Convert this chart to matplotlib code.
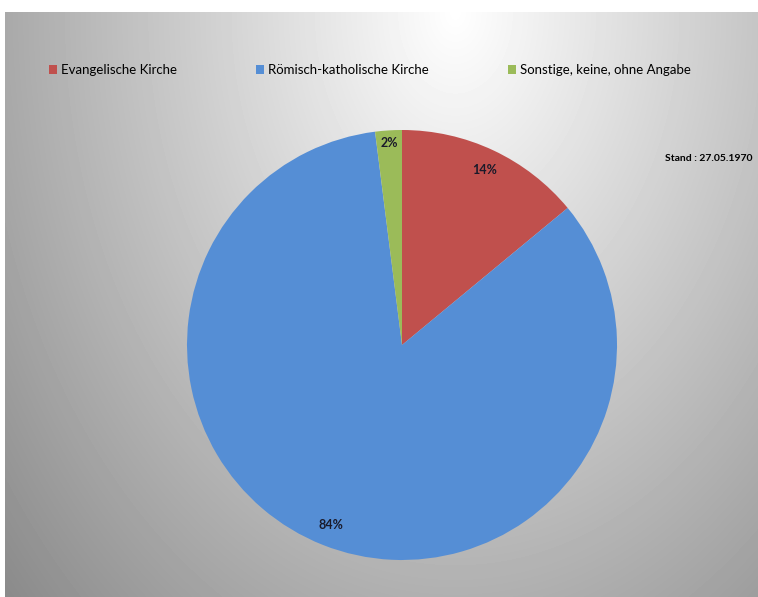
import matplotlib.pyplot as plt
import numpy as np

labels = ["Evangelische Kirche", "Römisch-katholische Kirche", "Sonstige, keine, ohne Angabe"]
shares = [14, 84, 2]
colors = ["#C0504D", "#558ED5", "#9BBB59"]
stand_text = "Stand : 27.05.1970"

plt.rcParams['font.family'] = ['Lato', 'DejaVu Sans']

W, H = 758, 597
fig = plt.figure(figsize=(W / 100, H / 100), dpi=100)
fig.patch.set_facecolor("white")

# background: elliptical gradient, white at top centre, grey towards the edges
bw, bh = W - 5, H - 12
bg = fig.add_axes([5 / W, 0, bw / W, bh / H])
yy, xx = np.mgrid[0:bh, 0:bw]
d = np.sqrt(((xx - 450) * 7.5e-4) ** 2 + (yy * 5.3e-4) ** 2)
val = np.clip(1 - d, 0, 1)
bg.imshow(val, cmap="gray", vmin=0, vmax=1, aspect="auto", interpolation="bilinear")
bg.set_axis_off()

# pie
cx, cy, r = 402, 345, 215
ax = fig.add_axes([(cx - r) / W, (H - cy - r) / H, 2 * r / W, 2 * r / H])
wedges, texts, autotexts = ax.pie(
    shares, colors=colors, startangle=90, counterclock=False,
    autopct="%d%%", pctdistance=0.9,
    textprops=dict(fontsize=9, fontweight="bold", color="#1a1a2a"))
x, y = autotexts[2].get_position()
autotexts[2].set_position((x * 1.045, y * 1.045))
ax.set_xlim(-1, 1)
ax.set_ylim(-1, 1)
ax.set_axis_off()

# legend
fig.legend(wedges, labels, loc="center", bbox_to_anchor=(370 / W, 1 - 70 / H), ncol=3,
           frameon=False, fontsize=9.5, handlelength=0.6, handleheight=0.6,
           handletextpad=0.3, columnspacing=6)

fig.text(665 / W, 1 - 159 / H, stand_text, fontsize=7.5, fontweight="bold",
         va="center", ha="left")

fig.savefig("out.png", dpi=100)
